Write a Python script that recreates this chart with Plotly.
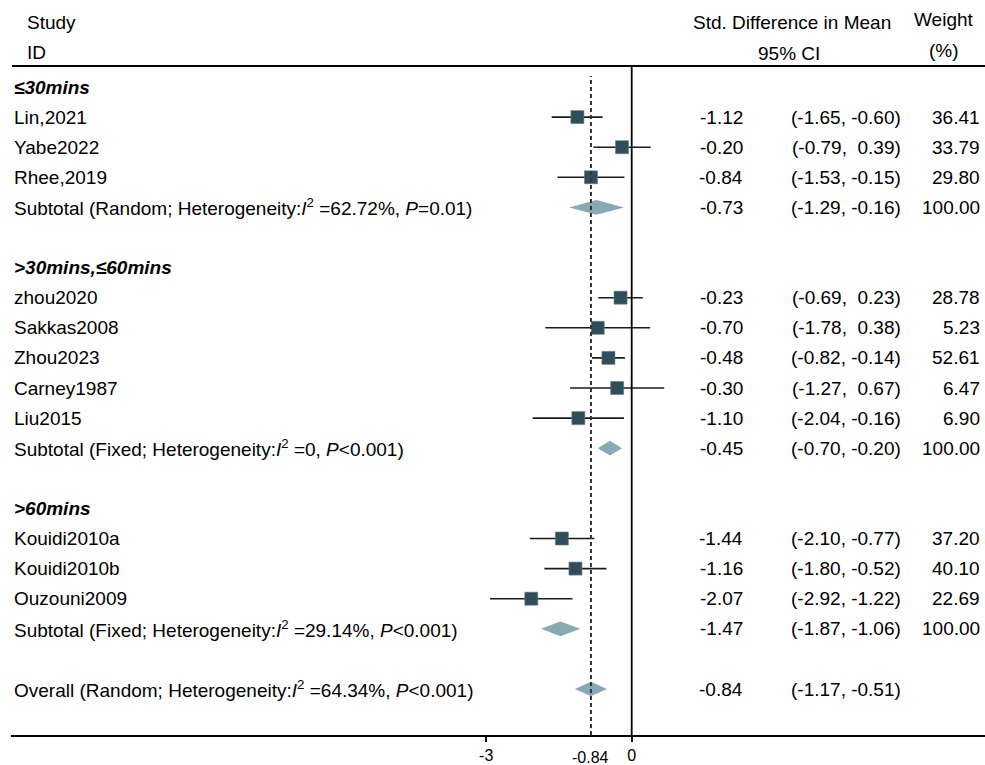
import plotly.graph_objects as go

# ---- data ----
groups = ["≤30mins", ">30mins,≤60mins", ">60mins"]
studies = [
    ["Lin,2021", "Yabe2022", "Rhee,2019"],
    ["zhou2020", "Sakkas2008", "Zhou2023", "Carney1987", "Liu2015"],
    ["Kouidi2010a", "Kouidi2010b", "Ouzouni2009"],
]
est = [[-1.12, -0.20, -0.84], [-0.23, -0.70, -0.48, -0.30, -1.10], [-1.44, -1.16, -2.07]]
lo = [[-1.65, -0.79, -1.53], [-0.69, -1.78, -0.82, -1.27, -2.04], [-2.10, -1.80, -2.92]]
hi = [[-0.60, 0.39, -0.15], [0.23, 0.38, -0.14, 0.67, -0.16], [-0.77, -0.52, -1.22]]
weight = [[36.41, 33.79, 29.80], [28.78, 5.23, 52.61, 6.47, 6.90], [37.20, 40.10, 22.69]]

sub_label = [
    "Subtotal (Random; Heterogeneity:<i>I</i><sup>2</sup> =62.72%, <i>P</i>=0.01)",
    "Subtotal (Fixed; Heterogeneity:<i>I</i><sup>2</sup> =0, <i>P</i><0.001)",
    "Subtotal (Fixed; Heterogeneity:<i>I</i><sup>2</sup> =29.14%, <i>P</i><0.001)",
]
sub_est = [-0.73, -0.45, -1.47]
sub_lo = [-1.29, -0.70, -1.87]
sub_hi = [-0.16, -0.20, -1.06]
sub_weight = [100.00, 100.00, 100.00]

overall_label = "Overall (Random; Heterogeneity:<i>I</i><sup>2</sup> =64.34%, <i>P</i><0.001)"
overall_est, overall_lo, overall_hi = -0.84, -1.17, -0.51

xticks = [-3, 0]
xtick_text = ["-3", "0"]

# ---- geometry ----
W, H = 985, 765
ML, MR, MT, MB = 11, 0, 66, 30
ROW_TOP, ROW_STEP = 87, 30.1          # pixel centre of first row, row spacing
PX_ZERO, PX_UNIT = 631.7, 48.5         # pixel of x=0, pixels per unit

x_range = [(ML - PX_ZERO) / PX_UNIT, (W - MR - PX_ZERO) / PX_UNIT]
y_top = (MT - ROW_TOP) / ROW_STEP
y_bot = (H - MB - ROW_TOP) / ROW_STEP


def px_x(px):
    return (px - ML) / (W - ML - MR)


def px_y(py):
    return (H - MB - py) / (H - MT - MB)


FONT = "Liberation Sans, Arial, sans-serif"
FS = 19
SQ_COL = "#304E5A"
DIA_COL = "#87A9B4"
LINE_COL = "#1a1a1a"

COL_LABEL, COL_EST, COL_CI, COL_W = 12, 745, 903, 982

fig = go.Figure()
ann = []


def text(x_px, y_row, s, anchor="left", size=FS):
    ann.append(dict(x=px_x(x_px), xref="paper", y=y_row, yref="y", text=s,
                    showarrow=False, xanchor=anchor, yanchor="middle",
                    font=dict(family=FONT, size=size, color="#000")))


def fmt_ci(a, b):
    return "(" + f"{a:.2f}".rjust(5, "\u00a0") + ", " + ("\u00a0" if b >= 0 else "") + f"{b:.2f})"


def diamond(l, c, h, row):
    hh = 0.245
    fig.add_trace(go.Scatter(x=[l, c, h, c, l], y=[row, row - hh, row, row + hh, row],
                             mode="lines", fill="toself", fillcolor=DIA_COL,
                             line=dict(width=0, color=DIA_COL), hoverinfo="skip",
                             showlegend=False))


row = 0
for g in range(len(groups)):
    text(COL_LABEL, row, f"<b><i>{groups[g]}</i></b>")
    row += 1
    for i, name in enumerate(studies[g]):
        fig.add_trace(go.Scatter(x=[lo[g][i], hi[g][i]], y=[row, row], mode="lines",
                                 line=dict(color=LINE_COL, width=1.6),
                                 hoverinfo="skip", showlegend=False))
        fig.add_trace(go.Scatter(x=[est[g][i]], y=[row], mode="markers",
                                 marker=dict(symbol="square", size=13, color=SQ_COL,
                                             line=dict(width=0.6, color="#5f7a85")),
                                 showlegend=False))
        text(COL_LABEL, row, name)
        text(COL_EST, row, f"{est[g][i]:.2f}", "right")
        text(COL_CI, row, fmt_ci(lo[g][i], hi[g][i]), "right")
        text(COL_W, row, f"{weight[g][i]:.2f}", "right")
        row += 1
    diamond(sub_lo[g], sub_est[g], sub_hi[g], row)
    text(COL_LABEL, row, sub_label[g])
    text(COL_EST, row, f"{sub_est[g]:.2f}", "right")
    text(COL_CI, row, fmt_ci(sub_lo[g], sub_hi[g]), "right")
    text(COL_W, row, f"{sub_weight[g]:.2f}", "right")
    row += 2

diamond(overall_lo, overall_est, overall_hi, row)
text(COL_LABEL, row, overall_label)
text(COL_EST, row, f"{overall_est:.2f}", "right")
text(COL_CI, row, fmt_ci(overall_lo, overall_hi), "right")

# header texts
for s, xp, yp, anc in [("Study", 25, 22, "left"), ("ID", 25, 52, "left"),
                       ("Std. Difference in Mean", 792, 22, "center"),
                       ("95% CI", 789, 53, "center"),
                       ("Weight", 944, 20, "center"), ("(%)", 944, 50, "center")]:
    ann.append(dict(x=px_x(xp), xref="paper", y=px_y(yp), yref="paper", text=s,
                    showarrow=False, xanchor=anc, yanchor="middle",
                    font=dict(family=FONT, size=FS, color="#000")))

# overall estimate label under the axis
ann.append(dict(x=overall_est, xref="x", y=px_y(757), yref="paper", text=f"{overall_est:.2f}",
                showarrow=False, xanchor="center", yanchor="middle",
                font=dict(family=FONT, size=16, color="#000")))

shapes = [
    # header rule
    dict(type="line", xref="paper", yref="paper", x0=px_x(12), x1=1, y0=1, y1=1,
         line=dict(color="#000", width=2)),
    # null line
    dict(type="line", xref="x", yref="paper", x0=0, x1=0, y0=0, y1=1,
         line=dict(color="#000", width=1.8)),
    # overall estimate line
    dict(type="line", xref="x", yref="paper", x0=overall_est, x1=overall_est, y0=0, y1=0.985,
         line=dict(color="#333", width=2, dash="4px,3px")),
]

fig.update_layout(
    width=W, height=H, margin=dict(l=ML, r=MR, t=MT, b=MB),
    paper_bgcolor="white", plot_bgcolor="white",
    annotations=ann, shapes=shapes,
    xaxis=dict(range=x_range, showgrid=False, zeroline=False, showline=True,
               linecolor="#000", linewidth=2, ticks="outside", ticklen=5, tickwidth=1.5,
               tickcolor="#000", tickvals=xticks, ticktext=xtick_text,
               tickfont=dict(family=FONT, size=16, color="#000")),
    yaxis=dict(range=[y_bot, y_top], showgrid=False, zeroline=False, showline=False,
               showticklabels=False, ticks=""),
    font=dict(family=FONT),
)

fig.write_html("out.html")
